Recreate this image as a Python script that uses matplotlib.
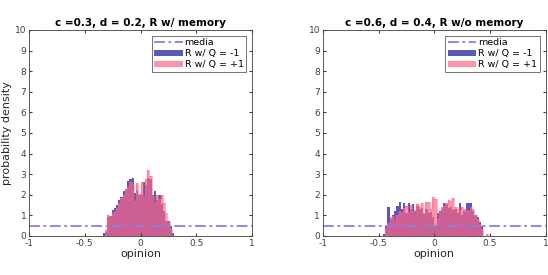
import numpy as np
import matplotlib
matplotlib.use('Agg')
import matplotlib.pyplot as plt

# histogram bins: 100 bins of width 0.02 over [-1, 1]
bin_edges = np.linspace(-1, 1, 101)
media_density = 0.5

# panel 1: c=0.3, d=0.2, with memory  (first non-empty bin centre and heights)
p1_start = -0.33
p1_neg = [0.15, 0.2, 0.9, 0.95, 1.25, 1.35, 1.5, 1.75, 1.9, 2.2, 2.3, 2.65, 2.75, 2.8,
          2.1, 2.25, 2.0, 2.0, 2.6, 2.45, 2.8, 2.75, 2.0, 2.2, 1.75, 2.0, 1.55, 1.2,
          0.75, 0.75, 0.5, 0.15]
p1_pos = [0.0, 0.3, 1.0, 0.95, 1.1, 1.2, 1.35, 1.6, 1.85, 2.0, 2.3, 2.4, 2.6, 2.5,
          1.7, 2.55, 2.05, 2.6, 1.9, 2.75, 3.2, 2.9, 1.95, 1.6, 2.0, 1.8, 2.0, 1.6,
          1.1, 0.7, 0.35, 0.0]

# panel 2: c=0.6, d=0.4, without memory
p2_start = -0.45
p2_neg = [0.1, 0.5, 1.4, 0.8, 1.0, 1.2, 1.45, 1.65, 1.3, 1.6, 1.1, 1.6, 1.3, 1.55,
          1.2, 1.45, 1.3, 1.35, 1.05, 1.3, 1.1, 1.15, 0.9, 0.55, 1.1, 1.2, 1.3, 1.6,
          1.55, 1.35, 1.4, 1.25, 1.3, 1.1, 1.6, 1.0, 1.2, 1.6, 1.6, 1.6, 1.2, 1.0,
          0.9, 0.7, 0.5, 0.0, 0.0]
p2_pos = [0.0, 0.4, 0.65, 0.9, 0.95, 0.75, 1.0, 1.2, 1.1, 1.35, 1.45, 1.15, 1.5, 1.2,
          1.25, 1.55, 1.4, 1.6, 1.1, 1.65, 1.65, 1.3, 1.9, 1.8, 0.8, 1.15, 1.4, 1.45,
          1.6, 1.75, 1.7, 1.85, 1.4, 1.3, 1.25, 1.4, 1.3, 1.2, 1.25, 1.4, 1.3, 1.0,
          0.8, 0.6, 0.35, 0.0, 0.1]

titles = ['c =0.3, d = 0.2, R w/ memory', 'c =0.6, d = 0.4, R w/o memory']
labels = ['media', 'R w/ Q = -1', 'R w/ Q = +1']


def full_hist(start, vals):
    h = np.zeros(len(bin_edges) - 1)
    i0 = int(round((start + 1) / 0.02 - 0.5))
    h[i0:i0 + len(vals)] = vals
    return h


blue = '#2222a0'
pink = '#ff6482'
media_col = '#8a7ee6'
gray = '#404040'

fig = plt.figure(figsize=(5.48, 2.75), dpi=100)
ax1 = fig.add_axes([0.053, 0.142, 0.407, 0.749])
ax2 = fig.add_axes([0.589, 0.142, 0.407, 0.749])

data = [(p1_start, p1_neg, p1_pos), (p2_start, p2_neg, p2_pos)]

for ax, (st, neg, pos), title in zip([ax1, ax2], data, titles):
    ax.axhline(media_density, color=media_col, lw=1.3, ls=(0, (6, 2, 1.5, 2)), label=labels[0])
    ax.stairs(full_hist(st, neg), bin_edges, fill=True, color=blue, alpha=0.75,
              linewidth=0, label=labels[1])
    ax.stairs(full_hist(st, pos), bin_edges, fill=True, color=pink, alpha=0.7,
              linewidth=0, label=labels[2])
    ax.stairs(full_hist(st, pos), bin_edges, color=pink, alpha=0.45, linewidth=0.8)
    ax.set_xlim(-1, 1)
    ax.set_ylim(0, 10)
    ax.set_xticks([-1, -0.5, 0, 0.5, 1])
    ax.set_xticklabels(['-1', '-0.5', '0', '0.5', '1'])
    ax.set_yticks(range(11))
    ax.tick_params(direction='in', length=2.5, labelsize=6.5, colors=gray,
                   top=True, right=True, pad=2)
    for s in ax.spines.values():
        s.set_color(gray)
        s.set_linewidth(0.6)
    ax.set_title(title, fontsize=7.5, fontweight='bold', pad=3)
    ax.set_xlabel('opinion', fontsize=8, color='#262626', labelpad=1)
    leg = ax.legend(loc='upper right', fontsize=6.8, frameon=True, fancybox=False,
                    borderpad=0.3, handlelength=3.0, handletextpad=0.2,
                    labelspacing=0.2, borderaxespad=0.6)
    leg.get_frame().set_edgecolor('#333333')
    leg.get_frame().set_linewidth(0.6)

ax1.set_ylabel('probability density', fontsize=8, color='#262626', labelpad=2)

fig.savefig('out.png', dpi=100)
